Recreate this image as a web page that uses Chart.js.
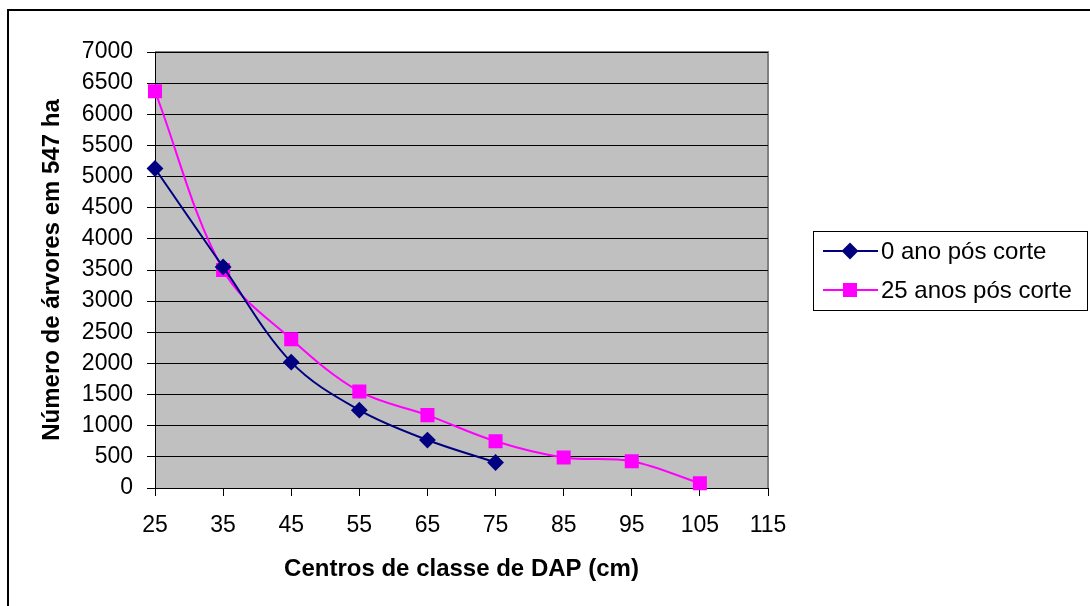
<!DOCTYPE html>
<html>
<head>
<meta charset="utf-8">
<script src="https://cdn.jsdelivr.net/npm/chart.js@4/dist/chart.umd.min.js"></script>
<style>
  body { margin: 0; background: #fff; }
</style>
</head>
<body>
<canvas id="myChart" width="1090" height="606"></canvas>
<script>
// centros de classe (cm)
const dap = [25, 35, 45, 55, 65, 75, 85, 95, 105];
// numero de arvores, logo apos o corte
const arvores0 = [5130, 3550, 2020, 1250, 770, 410];
// numero de arvores, 25 anos depois
const arvores25 = [6370, 3500, 2390, 1550, 1170, 750, 490, 430, 75];

const xTicks = [25, 35, 45, 55, 65, 75, 85, 95, 105, 115];
const serieNomes = ['0 ano pós corte', '25 anos pós corte'];

const fonte = '"Liberation Sans", Arial, sans-serif';

function pontos(vals) {
    return vals.map((v, i) => ({ x: dap[i], y: v }));
}

// fundo cinza, moldura e legenda no estilo do Excel
const excelLook = {
    id: 'excelLook',
    beforeDraw(chart) {
        const { ctx, chartArea: a } = chart;
        ctx.save();
        ctx.fillStyle = '#fff';
        ctx.fillRect(0, 0, chart.width, chart.height);
        ctx.lineWidth = 2;
        ctx.strokeStyle = '#000';
        ctx.strokeRect(8, 10, 1200, 1200);
        ctx.fillStyle = '#c0c0c0';
        ctx.fillRect(a.left, a.top, a.right - a.left, a.bottom - a.top);
        ctx.lineWidth = 2;
        ctx.strokeStyle = '#808080';
        ctx.beginPath();
        ctx.moveTo(a.left, a.top);
        ctx.lineTo(a.right, a.top);
        ctx.lineTo(a.right, a.bottom);
        ctx.stroke();
        ctx.restore();
    },
    afterDraw(chart) {
        const ctx = chart.ctx;
        ctx.save();
        ctx.lineWidth = 1;
        ctx.strokeStyle = '#000';
        ctx.strokeRect(813.5, 231.5, 274, 79);
        ctx.font = '24px ' + fonte;
        ctx.textBaseline = 'middle';
        chart.data.datasets.forEach((ds, i) => {
            const y = 251 + i * 39;
            ctx.strokeStyle = ds.borderColor;
            ctx.lineWidth = 2;
            ctx.beginPath();
            ctx.moveTo(823, y);
            ctx.lineTo(878, y);
            ctx.stroke();
            ctx.fillStyle = ds.backgroundColor;
            ctx.strokeStyle = ds.borderColor;
            Chart.helpers.drawPoint(ctx, {
                pointStyle: ds.pointStyle,
                radius: ds.pointRadius,
                rotation: 0,
                borderWidth: 1
            }, 850, y);
            ctx.fillStyle = '#000';
            ctx.fillText(ds.label, 881, y + 1);
        });
        ctx.restore();
    }
};

var ctx = document.getElementById('myChart').getContext('2d');
var chart = new Chart(ctx, {
    type: 'line',
    data: {
        datasets: [
        {
            label: serieNomes[0],
            data: pontos(arvores0),
            borderColor: '#000080',
            backgroundColor: '#000080',
            borderWidth: 2,
            pointStyle: 'rectRot',
            pointRadius: 7,
            pointHoverRadius: 7,
            tension: 0.35,
            clip: false
        },
        {
            label: serieNomes[1],
            data: pontos(arvores25),
            borderColor: '#ff00ff',
            backgroundColor: '#ff00ff',
            borderWidth: 2,
            pointStyle: 'rect',
            pointRadius: 8.5,
            pointHoverRadius: 8.5,
            tension: 0.35,
            clip: false
        }
      ]
    },
    options: {
        responsive: false,
        animation: false,
        devicePixelRatio: 1,
        layout: { padding: { left: 0, right: 322, top: 52, bottom: 0 } },
        plugins: {
            legend: { display: false },
            tooltip: { enabled: false }
        },
        scales: {
            x: {
                type: 'linear',
                min: 25,
                max: 115,
                afterBuildTicks: (s) => { s.ticks = xTicks.map(v => ({ value: v })); },
                afterFit: (s) => { s.height = 118; },
                grid: { drawOnChartArea: false, drawTicks: true, tickLength: 8, color: '#000', lineWidth: 1 },
                border: { color: '#000', width: 1 },
                ticks: { color: '#000', padding: 16, maxRotation: 0, font: { family: fonte, size: 23 } },
                title: {
                    display: true,
                    text: 'Centros de classe de DAP (cm)',
                    color: '#000',
                    font: { family: fonte, size: 24, weight: 'bold' },
                    padding: { top: 0, bottom: 22 }
                }
            },
            y: {
                min: 0,
                max: 7000,
                ticks: {
                    stepSize: 500,
                    color: '#000',
                    padding: 14,
                    font: { family: fonte, size: 23 },
                    callback: (v) => String(v)
                },
                afterFit: (s) => { s.width = 155; },
                grid: { color: '#000', lineWidth: 1, tickLength: 8 },
                border: { color: '#000', width: 1 },
                title: {
                    display: true,
                    text: 'Número de árvores em 547 ha',
                    color: '#000',
                    font: { family: fonte, size: 24, weight: 'bold' },
                    padding: { top: 38, bottom: 0 }
                }
            }
        }
    },
    plugins: [excelLook]
});
</script>
</body>
</html>
